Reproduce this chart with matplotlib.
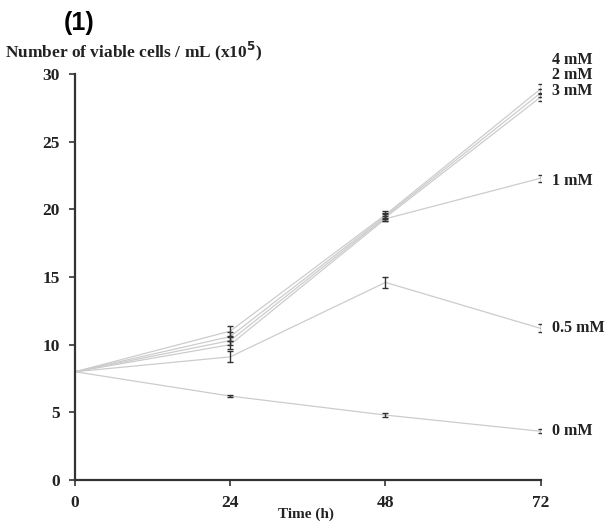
import matplotlib

matplotlib.use("Agg")
import matplotlib.pyplot as plt

# time points (h)
hours = [0, 24, 48, 72]

# concentration labels and viable cells / mL (x10^5)
conc_labels = ["0 mM", "0.5 mM", "1 mM", "3 mM", "2 mM", "4 mM"]
cells_0 = [8.0, 6.2, 4.8, 3.6]
cells_05 = [8.0, 9.1, 14.6, 11.2]
cells_1 = [8.0, 10.0, 19.3, 22.3]
cells_3 = [8.0, 10.3, 19.4, 28.3]
cells_2 = [8.0, 10.6, 19.5, 28.6]
cells_4 = [8.0, 11.0, 19.6, 28.9]

err_0 = [0.0, 0.1, 0.15, 0.15]
err_05 = [0.0, 0.4, 0.4, 0.3]
err_1 = [0.0, 0.3, 0.2, 0.25]
err_3 = [0.0, 0.3, 0.25, 0.3]
err_2 = [0.0, 0.3, 0.25, 0.3]
err_4 = [0.0, 0.35, 0.25, 0.35]

series = [cells_0, cells_05, cells_1, cells_3, cells_2, cells_4]
errors = [err_0, err_05, err_1, err_3, err_2, err_4]
# vertical label offsets (points) at the right end
label_dy = [0, 0, -2, 4, 13, 21]

serif = ["Liberation Serif", "DejaVu Serif"]

fig = plt.figure(figsize=(6.11, 5.32), dpi=100)
ax = fig.add_axes([0.1227, 0.0977, 0.7623, 0.7633])

for ys, es, label, dy in zip(series, errors, conc_labels, label_dy):
    ax.plot(hours, ys, color="#cccccc", linewidth=0.9, zorder=1)
    ax.errorbar(hours[1:], ys[1:], yerr=es[1:], fmt="none", ecolor="#333333",
                elinewidth=1.0, capsize=2.2, capthick=1.0, zorder=2)
    ax.annotate(label, xy=(hours[-1], ys[-1]), xytext=(8, dy),
                textcoords="offset points", va="center", ha="left",
                fontsize=11.5, fontweight="bold", family=serif, color="#222222")

ax.set_xlim(0, 72)
ax.set_ylim(0, 30)
ax.set_xticks(hours)
ax.set_yticks([0, 5, 10, 15, 20, 25, 30])
for side in ("top", "right"):
    ax.spines[side].set_visible(False)
for side in ("left", "bottom"):
    ax.spines[side].set_color("#333333")
    ax.spines[side].set_linewidth(1.6)
ax.tick_params(direction="out", length=4, width=1.2, colors="#333333", pad=7)
for lbl in ax.get_xticklabels() + ax.get_yticklabels():
    lbl.set_fontfamily(serif)
    lbl.set_fontweight("bold")
    lbl.set_fontsize(12.5)
    lbl.set_color("#222222")

fig.text(0.5, 0.02, "Time (h)", ha="center", va="bottom", fontsize=11,
         fontweight="bold", family=serif, color="#222222")
fig.text(0.008, 0.882, "Number of viable cells / mL (x10$^\\mathbf{5}$)", ha="left",
         va="bottom", fontsize=12.5, fontweight="bold", family=serif, color="#222222")
fig.text(0.105, 0.935, "(1)", ha="left", va="bottom", fontsize=18,
         fontweight="bold", family=["Liberation Sans", "DejaVu Sans"], color="black")

fig.savefig("out.png", dpi=100)
